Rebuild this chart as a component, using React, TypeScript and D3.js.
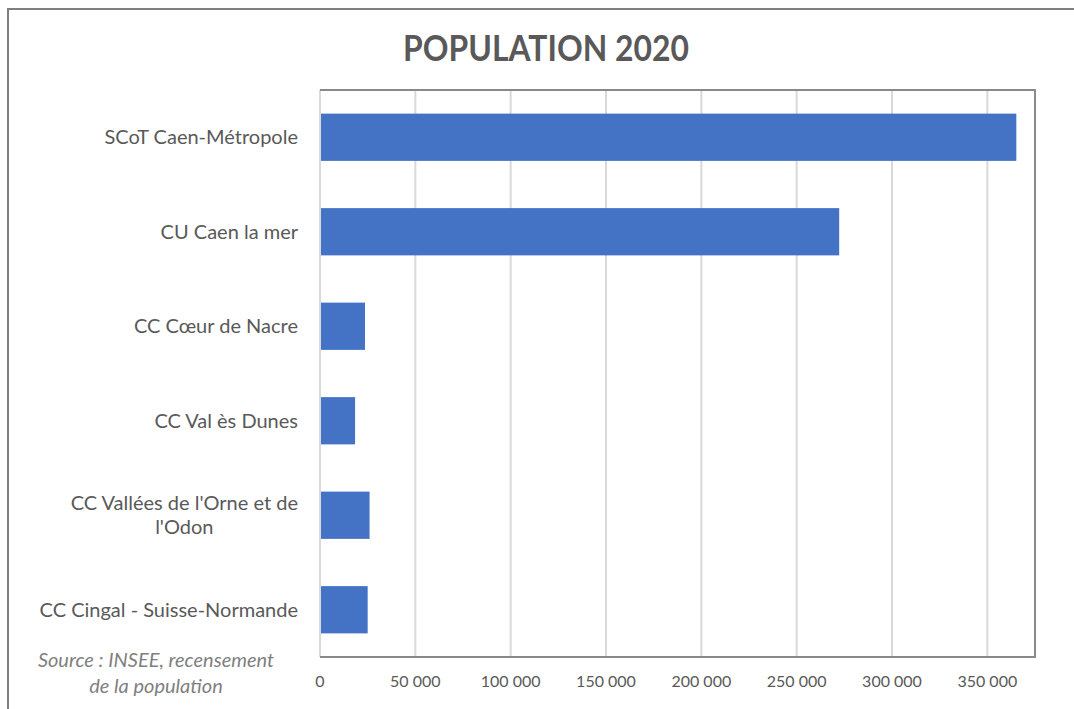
import React, { useEffect, useRef } from "react";
import * as d3 from "d3";

const categories: string[][] = [
  ["SCoT Caen-Métropole"],
  ["CU Caen la mer"],
  ["CC Cœur de Nacre"],
  ["CC Val ès Dunes"],
  ["CC Vallées de l'Orne et de", "l'Odon"],
  ["CC Cingal - Suisse-Normande"],
];
const population: number[] = [365200, 272300, 23600, 18400, 26000, 25000];
const xTicks: number[] = [0, 50000, 100000, 150000, 200000, 250000, 300000, 350000];
const title = "POPULATION 2020";
const sourceLines = ["Source : INSEE, recensement", "de la population"];

const W = 1074;
const H = 709;
const FONT = "Lato, 'Open Sans', sans-serif";

export default function App() {
  const ref = useRef<SVGSVGElement | null>(null);

  useEffect(() => {
    const svg = d3.select(ref.current);
    svg.selectAll("*").remove();

    const left = 320, right = 1035, top = 90, bottom = 657;
    const x = d3.scaleLinear().domain([0, 375000]).range([left, right]);
    const y = d3
      .scaleBand<number>()
      .domain(d3.range(categories.length))
      .range([top, bottom])
      .paddingInner(0.5)
      .paddingOuter(0.25);

    svg.append("rect").attr("x", 0).attr("y", 0).attr("width", W).attr("height", H).attr("fill", "#fff");
    // outer frame
    svg
      .append("rect")
      .attr("x", 8)
      .attr("y", 9)
      .attr("width", W + 20)
      .attr("height", H + 20)
      .attr("fill", "none")
      .attr("stroke", "#7f7f7f")
      .attr("stroke-width", 2);

    // title
    svg
      .append("text")
      .attr("x", 546)
      .attr("y", 61)
      .attr("text-anchor", "middle")
      .attr("font-family", FONT)
      .attr("font-weight", 700)
      .attr("font-size", 37)
      .attr("fill", "#595959")
      .attr("textLength", 286)
      .attr("lengthAdjust", "spacingAndGlyphs")
      .text(title);

    // gridlines
    svg
      .append("g")
      .selectAll("line")
      .data(xTicks)
      .join("line")
      .attr("x1", (d) => x(d))
      .attr("x2", (d) => x(d))
      .attr("y1", top)
      .attr("y2", bottom)
      .attr("stroke", "#d9d9d9")
      .attr("stroke-width", 2);

    // plot frame: top, right, bottom
    svg
      .append("path")
      .attr("d", `M${left},${top}H${right}V${bottom}H${left}`)
      .attr("fill", "none")
      .attr("stroke", "#898989")
      .attr("stroke-width", 2);

    // bars
    svg
      .append("g")
      .selectAll("rect")
      .data(population)
      .join("rect")
      .attr("x", x(0) + 1)
      .attr("y", (_d, i) => y(i)!)
      .attr("width", (d) => x(d) - x(0) - 1)
      .attr("height", y.bandwidth())
      .attr("fill", "#4472c4");

    // x tick labels
    const fmt = (v: number) => d3.format(",")(v).replace(/,/g, " ");
    svg
      .append("g")
      .selectAll("text")
      .data(xTicks)
      .join("text")
      .attr("x", (d) => x(d))
      .attr("y", 687)
      .attr("text-anchor", "middle")
      .attr("font-family", FONT)
      .attr("font-size", 16)
      .attr("fill", "#595959")
      .text((d) => fmt(d));

    // category labels
    const labelRight = 298;
    const lineH = 24;
    categories.forEach((lines, i) => {
      const cy = y(i)! + y.bandwidth() / 2;
      const g = svg.append("g");
      const texts = lines.map((l) =>
        g
          .append("text")
          .attr("font-family", FONT)
          .attr("font-size", 20)
          .attr("fill", "#595959")
          .text(l)
      );
      const widths = texts.map((t) => (t.node() as SVGTextElement).getComputedTextLength());
      const maxW = Math.max(...widths);
      const cx = labelRight - maxW / 2;
      const y0 = cy + 7 - ((lines.length - 1) * lineH) / 2;
      texts.forEach((t, j) => {
        t.attr("x", cx).attr("y", y0 + j * lineH).attr("text-anchor", "middle");
      });
    });

    // source note
    sourceLines.forEach((l, j) => {
      svg
        .append("text")
        .attr("x", 156)
        .attr("y", 667 + j * 26)
        .attr("text-anchor", "middle")
        .attr("font-family", FONT)
        .attr("font-style", "italic")
        .attr("font-size", 20)
        .attr("fill", "#7f7f7f")
        .text(l);
    });
  }, []);

  return (
    <svg
      ref={ref}
      width={W}
      height={H}
      style={{ position: "absolute", left: 0, top: 0, display: "block" }}
    />
  );
}
